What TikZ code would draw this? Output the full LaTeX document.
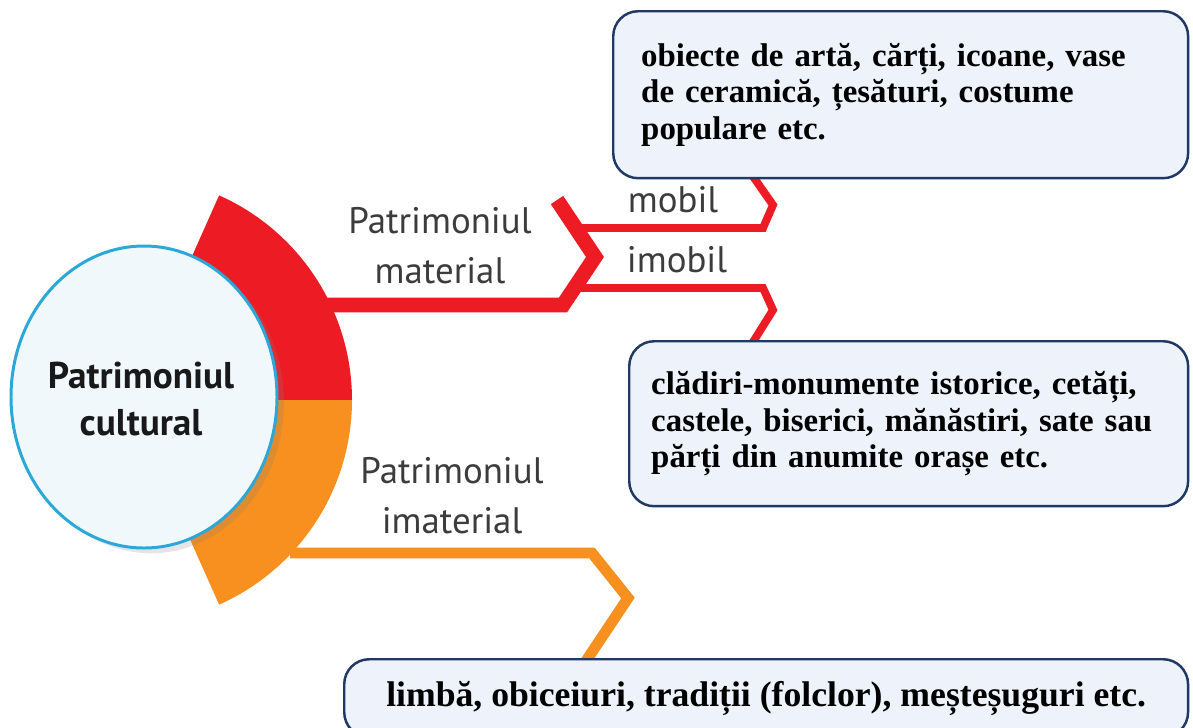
\documentclass[tikz,border=0pt]{standalone}
\usepackage{fontspec}
\setmainfont{Liberation Serif}
\newfontfamily\labelfont{PT Sans}
\usetikzlibrary{shadows}

\definecolor{matred}{HTML}{ED1C24}
\definecolor{imatorange}{HTML}{F7901E}
\definecolor{ringblue}{HTML}{2BA8D9}
\definecolor{corefill}{HTML}{F1F8FC}
\definecolor{boxfill}{HTML}{EEF3FB}
\definecolor{boxline}{HTML}{1F3864}
\definecolor{labelgray}{HTML}{3C3C3C}

\begin{document}
\begin{tikzpicture}
        [
            x=0.02cm,
            y=-0.02cm,
            branch/.style={line join=miter, line cap=butt},
            sublabel/.style={font=\labelfont\fontsize{21}{28.5}\selectfont, text=labelgray, align=center, inner sep=0pt},
            infobox/.style={draw=boxline, line width=1.4pt, fill=boxfill, rounded corners=0.5cm, font=\bfseries\fontsize{18.7}{20.8}\selectfont, align=left}
        ]
        \clip (0,0) rectangle (1193,727);
        \fill[white] (0,0) rectangle (1193,727);

        % the two sectors behind the circle
        \fill[matred] (128,400) -- ++(-66:224) arc[start angle=-66, end angle=0, radius=224] -- cycle;
        \fill[imatorange] (128,400) -- ++(0:224) arc[start angle=0, end angle=66, radius=224] -- cycle;

        \coordinate (matstart) at (300,305);
        \coordinate (matbend) at (563,305);
        \coordinate (matfork) at (595,257);
        \coordinate (matend) at (557,200);
        \coordinate (mobstart) at (578,228);
        \coordinate (mobbend) at (763,228);
        \coordinate (mobtip) at (773,205);
        \coordinate (mobend) at (745,165);
        \coordinate (imobstart) at (574,288);
        \coordinate (imobbend) at (763,288);
        \coordinate (imobtip) at (773,310);
        \coordinate (imobend) at (748,350);
        \coordinate (imatstart) at (290,553);
        \coordinate (imatbend) at (592,553);
        \coordinate (imattip) at (628,598);
        \coordinate (imatend) at (580,670);

        \draw[matred, line width=8.5pt, branch] (matstart) -- (matbend) -- (matfork) -- (matend);
        \draw[matred, line width=4.5pt, branch] (mobstart) -- (mobbend) -- (mobtip) -- (mobend);
        \draw[matred, line width=4.5pt, branch] (imobstart) -- (imobbend) -- (imobtip) -- (imobend);
        \draw[imatorange, line width=6.2pt, branch] (imatstart) -- (imatbend) -- (imattip) -- (imatend);

        % the circle in the middle
        \draw[ringblue, line width=1.7pt, fill=corefill, drop shadow={opacity=0.2, shadow xshift=4pt, shadow yshift=-3pt}]
            (144,397) ellipse[x radius=133, y radius=151];
        \node[font=\labelfont\bfseries\fontsize{21.2}{26.8}\selectfont, align=center, text=black!90] (core) at (141,399) {Patrimoniul\\cultural};

        \node[sublabel] (matlabel) at (440,246) {Patrimoniul\\material};
        \node[sublabel] (imatlabel) at (452,496) {Patrimoniul\\imaterial};
        \node[sublabel, anchor=base] (mobil) at (673,212) {mobil};
        \node[sublabel, anchor=base] (imobil) at (677,272) {imobil};

        \node[infobox, anchor=north west, text width=10.38cm, inner xsep=0.56cm, minimum height=3.34cm] (obj) at (612,10)
            {obiecte de artă, cărți, icoane, vase\\de ceramică, țesături, costume\\populare etc.};
        \node[infobox, anchor=north west, text width=10.3cm, inner xsep=0.44cm, minimum height=3.3cm] (monum) at (628,340)
            {clădiri-monumente istorice, cetăți,\\castele, biserici, mănăstiri, sate sau\\părți din anumite orașe etc.};
        \node[infobox, anchor=north west, align=center, minimum width=16.88cm, minimum height=1.56cm, font=\bfseries\fontsize{20.3}{22}\selectfont] (trad) at (343,658)
            {limbă, obiceiuri, tradiții (folclor), meșteșuguri etc.};
\end{tikzpicture}
\end{document}
